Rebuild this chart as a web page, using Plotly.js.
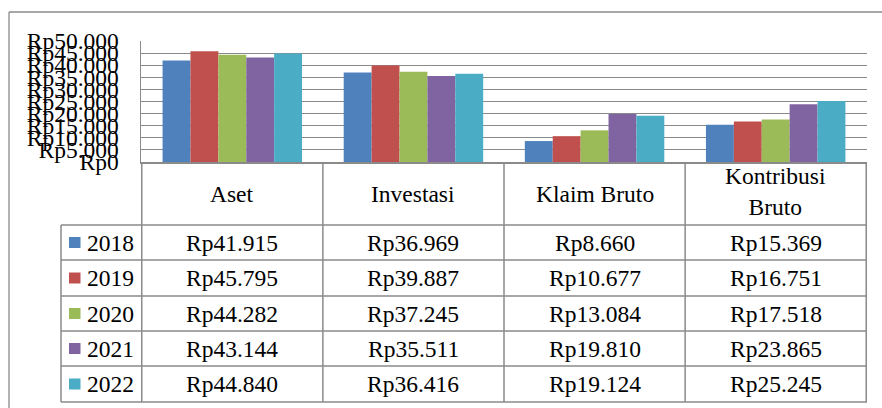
<!DOCTYPE html>
<html>
<head>
<meta charset="utf-8">
<script src="https://cdn.plot.ly/plotly-3.0.1.min.js"></script>
<style>html,body{margin:0;padding:0;background:#fff;}#chart{width:882px;height:408px;}</style>
</head>
<body>
<div id="chart"></div>
<script>
var categories = ['Aset', 'Investasi', 'Klaim Bruto', 'Kontribusi Bruto'];
var headerLabels = ['Aset', 'Investasi', 'Klaim Bruto', 'Kontribusi<br>Bruto'];
var years = ['2018', '2019', '2020', '2021', '2022'];
var v2018 = [41915, 36969, 8660, 15369];
var v2019 = [45795, 39887, 10677, 16751];
var v2020 = [44282, 37245, 13084, 17518];
var v2021 = [43144, 35511, 19810, 23865];
var v2022 = [44840, 36416, 19124, 25245];
var tickValues = [0, 5000, 10000, 15000, 20000, 25000, 30000, 35000, 40000, 45000, 50000];

var series = [v2018, v2019, v2020, v2021, v2022];
var colors = ['#4F81BD', '#C0504D', '#9BBB59', '#8064A2', '#4BACC6'];
var FONT = 'Liberation Serif';
var FS = 23.5;
var GRAY = '#8a8a8a';

function fmt(n) { return 'Rp' + String(n).replace(/\B(?=(\d{3})+(?!\d))/g, '.'); }

// pixel -> paper helpers (plot area: x 141..867, y 41..162)
var L = 141, R = 867, T = 41, B = 162;
function px(x) { return (x - L) / (R - L); }
function py(y) { return (B - y) / (B - T); }

var traces = series.map(function (vals, i) {
  return {
    type: 'bar', name: years[i], x: categories, y: vals,
    marker: { color: colors[i], line: { width: 0 } },
    hoverinfo: 'x+y'
  };
});

var shapes = [];
var annotations = [];
var rowLines = [162, 225, 260, 296, 331, 366, 402];
var legendLeft = 61;

// outer chart border (top and left visible)
shapes.push({ type: 'line', xref: 'paper', yref: 'paper', x0: px(9), x1: px(884), y0: py(12), y1: py(12), line: { color: GRAY, width: 1.3 } });
shapes.push({ type: 'line', xref: 'paper', yref: 'paper', x0: px(9), x1: px(9), y0: py(12), y1: py(410), line: { color: GRAY, width: 1.3 } });

// table horizontal lines
for (var k = 1; k < rowLines.length; k++) {
  shapes.push({ type: 'line', xref: 'paper', yref: 'paper', x0: px(legendLeft), x1: 1, y0: py(rowLines[k]), y1: py(rowLines[k]), line: { color: GRAY, width: 1.5 } });
}
// table vertical lines at category boundaries
for (var c = 0; c <= categories.length; c++) {
  shapes.push({ type: 'line', xref: 'x', yref: 'paper', x0: c - 0.5, x1: c - 0.5, y0: py(162), y1: py(402), line: { color: GRAY, width: 1.5 } });
}
shapes.push({ type: 'line', xref: 'paper', yref: 'paper', x0: px(legendLeft), x1: px(legendLeft), y0: py(225), y1: py(402), line: { color: GRAY, width: 1.5 } });

// header labels
headerLabels.forEach(function (h, i) {
  var multi = h.indexOf('<br>') >= 0;
  annotations.push({ xref: 'x', yref: 'paper', x: categories[i], y: py(multi ? 191.5 : 194), text: h, showarrow: false, xanchor: 'center', yanchor: 'middle', font: { family: FONT, size: FS, color: '#000' } });
});

// data rows
years.forEach(function (yr, r) {
  var yc = (rowLines[r + 1] + rowLines[r + 2]) / 2;
  shapes.push({ type: 'rect', xref: 'paper', yref: 'paper', x0: px(69), x1: px(80.5), y0: py(yc - 5.5), y1: py(yc + 5.5), fillcolor: colors[r], line: { width: 0 } });
  annotations.push({ xref: 'paper', yref: 'paper', x: px(85), y: py(yc), text: yr, showarrow: false, xanchor: 'left', yanchor: 'middle', font: { family: FONT, size: FS, color: '#000' } });
  series[r].forEach(function (v, i) {
    annotations.push({ xref: 'x', yref: 'paper', x: categories[i], y: py(yc), text: fmt(v), showarrow: false, xanchor: 'center', yanchor: 'middle', font: { family: FONT, size: FS, color: '#000' } });
  });
});

var layout = {
  width: 882, height: 408,
  margin: { l: L, r: 882 - R, t: T, b: 408 - B, pad: 0 },
  paper_bgcolor: '#fff', plot_bgcolor: '#fff',
  showlegend: false,
  barmode: 'group', bargap: 0.23, bargroupgap: 0,
  font: { family: FONT, size: FS, color: '#000' },
  xaxis: { showticklabels: false, showgrid: false, zeroline: false, showline: true, linecolor: GRAY, linewidth: 1.5, ticks: '', fixedrange: true },
  yaxis: {
    range: [0, 50000], tickmode: 'array', tickvals: tickValues,
    ticktext: tickValues.map(fmt), showgrid: true, gridcolor: GRAY, gridwidth: 1,
    zeroline: false, showline: true, linecolor: GRAY, linewidth: 1.5, ticks: '',
    ticklabelstandoff: 16, tickfont: { family: FONT, size: FS, color: '#000' }, fixedrange: true
  },
  shapes: shapes,
  annotations: annotations
};

Plotly.newPlot('chart', traces, layout, { displayModeBar: false, staticPlot: true });
</script>
</body>
</html>
